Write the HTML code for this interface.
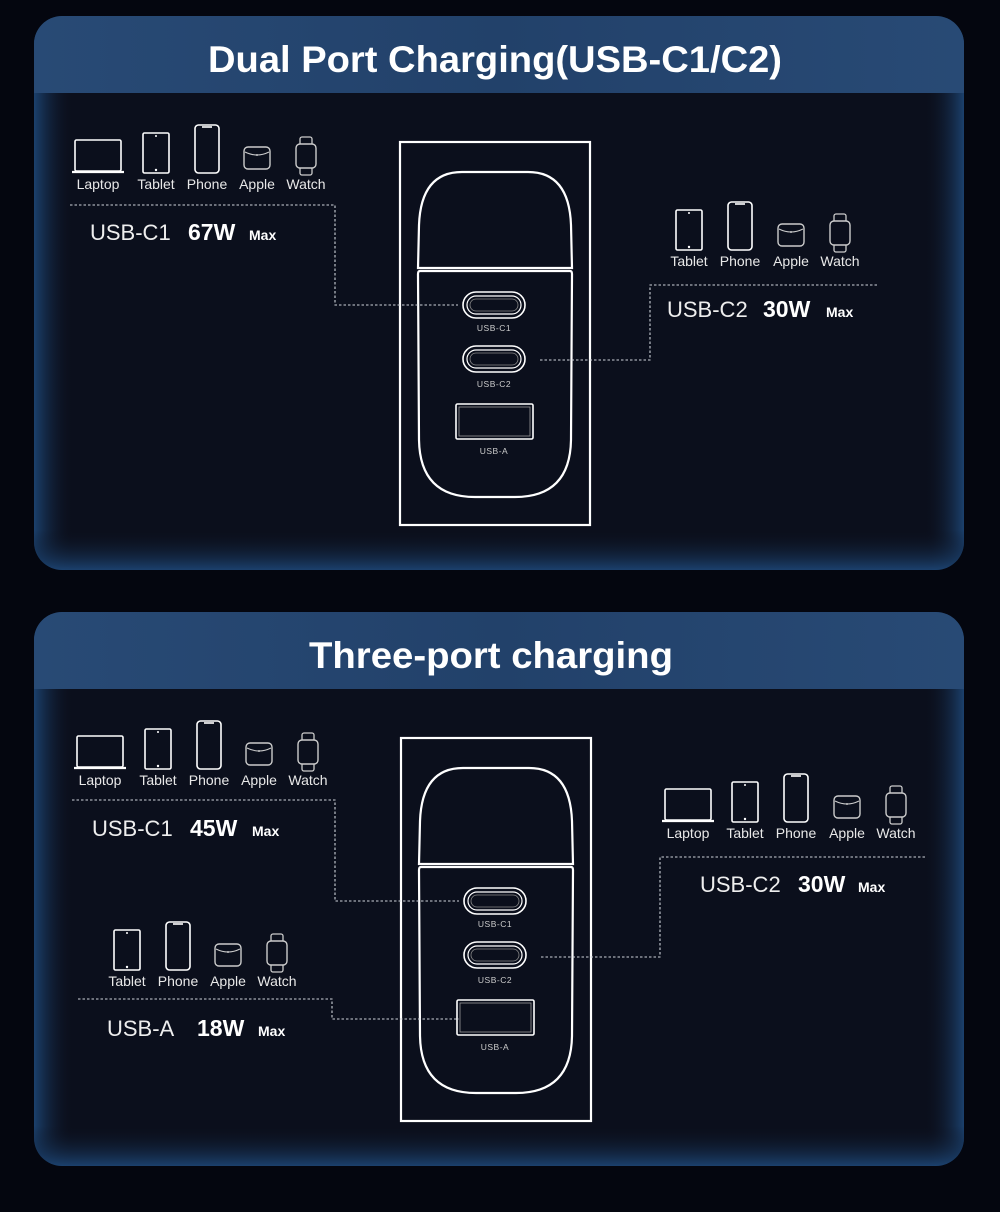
<!DOCTYPE html>
<html><head><meta charset="utf-8"><style>
html,body{margin:0;padding:0;background:#04060f;}
svg{display:block;font-family:"Liberation Sans",sans-serif;}
</style></head><body>
<svg id="s" width="1000" height="1212" viewBox="0 0 1000 1212" xmlns="http://www.w3.org/2000/svg">
<defs>
<linearGradient id="gl" x1="0" y1="0" x2="1" y2="0">
<stop offset="0" stop-color="#1d4676" stop-opacity="0.9"/><stop offset="1" stop-color="#0b0f1c" stop-opacity="0"/>
</linearGradient>
<linearGradient id="gr" x1="1" y1="0" x2="0" y2="0">
<stop offset="0" stop-color="#1d4676" stop-opacity="0.9"/><stop offset="1" stop-color="#0b0f1c" stop-opacity="0"/>
</linearGradient>
<linearGradient id="gb" x1="0" y1="1" x2="0" y2="0">
<stop offset="0" stop-color="#1d4676" stop-opacity="0.9"/><stop offset="1" stop-color="#0b0f1c" stop-opacity="0"/>
</linearGradient>
<linearGradient id="hdr" x1="0" y1="0" x2="1" y2="0">
<stop offset="0" stop-color="#284a75"/><stop offset="0.5" stop-color="#22416a"/><stop offset="1" stop-color="#284a75"/>
</linearGradient>
<clipPath id="c1"><rect x="34" y="16" width="930" height="554" rx="28"/></clipPath>
<clipPath id="c2"><rect x="34" y="612" width="930" height="554" rx="28"/></clipPath>
</defs>
<rect width="1000" height="1212" fill="#04060f"/>
<g id="root"></g>
</svg>
<script>
const root=document.getElementById('root');
let h='';
function panel(y,clip,title,tx,tw){
  h+=`<g clip-path="url(#${clip})"><rect x="34" y="${y}" width="930" height="554" fill="#0b0f1c"/>
  <rect x="34" y="${y}" width="40" height="554" fill="url(#gl)"/>
  <rect x="924" y="${y}" width="40" height="554" fill="url(#gr)"/>
  <rect x="34" y="${y+514}" width="930" height="40" fill="url(#gb)"/>
  <rect x="34" y="${y}" width="930" height="77" fill="url(#hdr)"/></g>
  <text x="${tx}" y="${y+56}" fill="#fff" font-size="37" font-weight="bold" textLength="${tw}" lengthAdjust="spacingAndGlyphs">${title}</text>`;
}
panel(16,'c1','Dual Port Charging(USB-C1/C2)',208,574);
panel(612,'c2','Three-port charging',309,364);
const S='stroke="#fff" fill="none" stroke-width="1.6"';
const icons={
 Laptop:(c,b)=>`<rect x="${c-23}" y="${b-49}" width="46" height="31" rx="1.5" ${S}/><line x1="${c-26}" y1="${b-17}" x2="${c+26}" y2="${b-17}" stroke="#fff" stroke-width="2.2"/>`,
 Tablet:(c,b)=>`<rect x="${c-13}" y="${b-56}" width="26" height="40" rx="1.5" ${S}/><circle cx="${c}" cy="${b-53}" r="1" fill="#fff"/><circle cx="${c}" cy="${b-19}" r="1.2" fill="#fff"/>`,
 Phone:(c,b)=>`<rect x="${c-12}" y="${b-64}" width="24" height="48" rx="3.5" ${S}/><line x1="${c-5}" y1="${b-62}" x2="${c+5}" y2="${b-62}" stroke="#fff" stroke-width="1.6"/>`,
 Apple:(c,b)=>`<rect x="${c-13}" y="${b-42}" width="26" height="22" rx="4" stroke="#ccc" fill="none" stroke-width="1.4"/><path d="M${c-12} ${b-37} Q${c} ${b-31} ${c+12} ${b-37}" stroke="#ccc" fill="none" stroke-width="1"/><circle cx="${c}" cy="${b-34}" r="1" fill="#ccc"/>`,
 Watch:(c,b)=>`<rect x="${c-6}" y="${b-52}" width="12" height="38" rx="2" stroke="#ccc" fill="#0b0f1c" stroke-width="1.3"/><rect x="${c-10}" y="${b-45}" width="20" height="24" rx="4" stroke="#ccc" fill="#0b0f1c" stroke-width="1.4"/>`
};
function group(items,b){
  items.forEach(([n,c])=>{h+=icons[n](c,b);h+=`<text x="${c}" y="${b}" fill="#e8e8e8" font-size="14" text-anchor="middle">${n}</text>`;});
}
function label(x,y,port,w,wx,mx){
  h+=`<text x="${x}" y="${y}" fill="#eee" font-size="22">${port}</text><text x="${wx}" y="${y}" fill="#fff" font-size="23" font-weight="bold">${w}</text><text x="${mx}" y="${y}" fill="#fff" font-size="14" font-weight="bold">Max</text>`;
}
function dots(pts){h+=`<polyline points="${pts}" fill="none" stroke="#cfd3da" stroke-width="1.1" stroke-dasharray="2.5 2"/>`;}
function charger(dx,dy){
  const X=v=>v+dx,Y=v=>v+dy;
  h+=`<rect x="${X(400)}" y="${Y(142)}" width="190" height="383" ${S.replace('1.6','2.2')}/>`;
  h+=`<path d="M${X(418)} ${Y(268)} L${X(419)} ${Y(225)} Q${X(421)} ${Y(172)} ${X(462)} ${Y(172)} L${X(528)} ${Y(172)} Q${X(569)} ${Y(172)} ${X(571)} ${Y(225)} L${X(572)} ${Y(268)} Z" stroke="#fff" fill="none" stroke-width="2.2"/>`;
  h+=`<path d="M${X(420)} ${Y(271)} L${X(570)} ${Y(271)} Q${X(572)} ${Y(271)} ${X(572)} ${Y(274)} L${X(571)} ${Y(440)} Q${X(570)} ${Y(497)} ${X(515)} ${Y(497)} L${X(475)} ${Y(497)} Q${X(420)} ${Y(497)} ${X(419)} ${Y(440)} L${X(418)} ${Y(274)} Q${X(418)} ${Y(271)} ${X(420)} ${Y(271)} Z" stroke="#fff" fill="none" stroke-width="2.2"/>`;
  [[305,'USB-C1',331],[359,'USB-C2',387]].forEach(([cy,t,ty])=>{
    h+=`<rect x="${X(463)}" y="${Y(cy-13)}" width="62" height="26" rx="13" ${S}/><rect x="${X(467)}" y="${Y(cy-9)}" width="54" height="18" rx="9" stroke="#fff" fill="none" stroke-width="1.2"/><rect x="${X(470)}" y="${Y(cy-6)}" width="48" height="12" rx="6" stroke="#888" fill="none" stroke-width="0.8"/>`;
    h+=`<text x="${X(494)}" y="${Y(ty)}" fill="#ccc" font-size="8.5" text-anchor="middle" letter-spacing="0.5">${t}</text>`;
  });
  h+=`<rect x="${X(456)}" y="${Y(404)}" width="77" height="35" rx="1.5" ${S}/><rect x="${X(459)}" y="${Y(407)}" width="71" height="29" stroke="#999" fill="none" stroke-width="0.8"/>`;
  h+=`<text x="${X(494)}" y="${Y(454)}" fill="#ccc" font-size="8.5" text-anchor="middle" letter-spacing="0.5">USB-A</text>`;
}
charger(0,0);
group([['Laptop',98],['Tablet',156],['Phone',207],['Apple',257],['Watch',306]],189);
dots('70,205 335,205 335,305 458,305');
label(90,240,'USB-C1','67W',188,249);
group([['Tablet',689],['Phone',740],['Apple',791],['Watch',840]],266);
dots('877,285 650,285 650,360 538,360');
label(667,317,'USB-C2','30W',763,826);
charger(1,596);
group([['Laptop',100],['Tablet',158],['Phone',209],['Apple',259],['Watch',308]],785);
dots('72,800 335,800 335,901 459,901');
label(92,836,'USB-C1','45W',190,252);
group([['Tablet',127],['Phone',178],['Apple',228],['Watch',277]],986);
dots('78,999 332,999 332,1019 459,1019');
label(107,1036,'USB-A','18W',197,258);
group([['Laptop',688],['Tablet',745],['Phone',796],['Apple',847],['Watch',896]],838);
dots('925,857 660,857 660,957 540,957');
label(700,892,'USB-C2','30W',798,858);
root.innerHTML=h;
</script>
</body></html>
